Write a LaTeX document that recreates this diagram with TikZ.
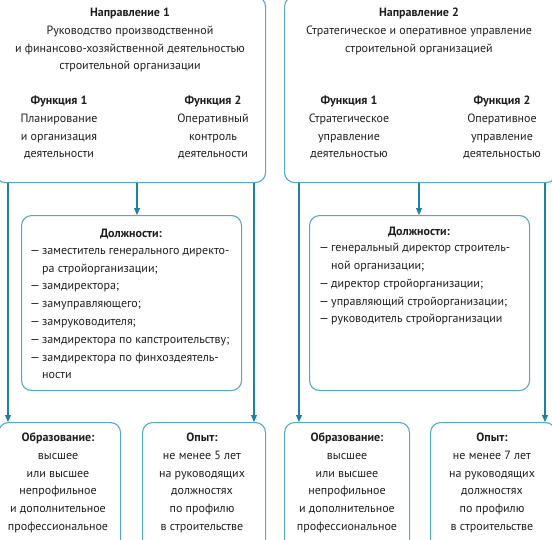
\documentclass[tikz,border=0pt]{standalone}
\usepackage{fontspec}
\setmainfont{PT Sans}
\usetikzlibrary{arrows.meta}
\definecolor{boxc}{RGB}{84,168,198}
\definecolor{arrc}{RGB}{30,128,165}
\definecolor{txtc}{RGB}{30,30,30}
\newcommand\mystrut{\rule{0pt}{9.5pt}}
\newcommand\dsh{\makebox[12pt][l]{—}}
\newcommand\ind{\hspace*{12pt}}
\begin{document}
\begin{tikzpicture}[x=1pt,y=-1pt,
  box/.style={draw=boxc,line width=1.1pt,rounded corners=10pt,inner sep=0pt,anchor=north west},
  arr/.style={draw=arrc,line width=1.1pt,-{Triangle[length=7pt,width=6pt]}},
  tx/.style={inner sep=0pt,align=center,anchor=north,text=txtc,font=\fontsize{12}{17.8}\selectfont},
  lst/.style={inner sep=0pt,align=left,anchor=north west,text=txtc,font=\fontsize{12}{17.8}\selectfont}]
\useasboundingbox (0,0) rectangle (552,539);
\clip (0,0) rectangle (552,539);
% boxes
\node[box,minimum width=270pt,minimum height=186pt] (d1) at (-5,-4) {};
\node[box,minimum width=272pt,minimum height=186pt] (d2) at (284,-4) {};
\node[box,minimum width=220pt,minimum height=175pt] (p1) at (21,215) {};
\node[box,minimum width=220pt,minimum height=175pt] (p2) at (309,215) {};
\node[box,minimum width=122pt,minimum height=130pt] (e1) at (-2,422) {};
\node[box,minimum width=123pt,minimum height=130pt] (x1) at (142,422) {};
\node[box,minimum width=125pt,minimum height=130pt] (e2) at (284,422) {};
\node[box,minimum width=125pt,minimum height=130pt] (x2) at (430,422) {};
% texts
\node[tx] (t1) at (130,6.7) {\mystrut\textbf{Направление 1}\\Руководство производственной\\и финансово-хозяйственной деятельностью\\строительной организации};
\node[tx] (f11) at (59,94.7) {\mystrut\textbf{Функция 1}\\Планирование\\и организация\\деятельности};
\node[tx] (f12) at (213,94.7) {\mystrut\textbf{Функция 2}\\Оперативный\\контроль\\деятельности};
\node[tx] (t2) at (419,6.7) {\mystrut\textbf{Направление 2}\\Стратегическое и оперативное управление\\строительной организацией};
\node[tx] (f21) at (349,94.7) {\mystrut\textbf{Функция 1}\\Стратегическое\\управление\\деятельностью};
\node[tx] (f22) at (502,94.7) {\mystrut\textbf{Функция 2}\\Оперативное\\управление\\деятельностью};
\node[tx] (h1) at (131,227.7) {\mystrut\textbf{Должности:}};
\node[lst] (l1) at (30,244.5) {\mystrut\dsh заместитель генерального директо-\\\ind ра стройорганизации;\\\dsh замдиректора;\\\dsh замуправляющего;\\\dsh замруководителя;\\\dsh замдиректора по капстроительству;\\\dsh замдиректора по финхоздеятель-\\\ind ности};
\node[tx] (h2) at (419,225.5) {\mystrut\textbf{Должности:}};
\node[lst] (l2) at (319,242) {\mystrut\dsh генеральный директор строитель-\\\ind ной организации;\\\dsh директор стройорганизации;\\\dsh управляющий стройорганизации;\\\dsh руководитель стройорганизации};
\node[tx] (te1) at (58,431.7) {\mystrut\textbf{Образование:}\\высшее\\или высшее\\непрофильное\\и дополнительное\\профессиональное};
\node[tx] (tx1) at (202,431.7) {\mystrut\textbf{Опыт:}\\не менее 5 лет\\на руководящих\\должностях\\по профилю\\в строительстве};
\node[tx] (te2) at (347,431.7) {\mystrut\textbf{Образование:}\\высшее\\или высшее\\непрофильное\\и дополнительное\\профессиональное};
\node[tx] (tx2) at (492,431.7) {\mystrut\textbf{Опыт:}\\не менее 7 лет\\на руководящих\\должностях\\по профилю\\в строительстве};
% connector x positions
\coordinate (a1) at (8,0);
\coordinate (a2) at (137,0);
\coordinate (a3) at (254,0);
\coordinate (b1) at (299,0);
\coordinate (b2) at (419,0);
\coordinate (b3) at (545,0);
\draw[arr] (d1.south -| a1) -- (e1.north -| a1);
\draw[arr] (d1.south -| a2) -- (p1.north -| a2);
\draw[arr] (d1.south -| a3) -- (x1.north -| a3);
\draw[arr] (d2.south -| b1) -- (e2.north -| b1);
\draw[arr] (d2.south -| b2) -- (p2.north -| b2);
\draw[arr] (d2.south -| b3) -- (x2.north -| b3);
\end{tikzpicture}
\end{document}
